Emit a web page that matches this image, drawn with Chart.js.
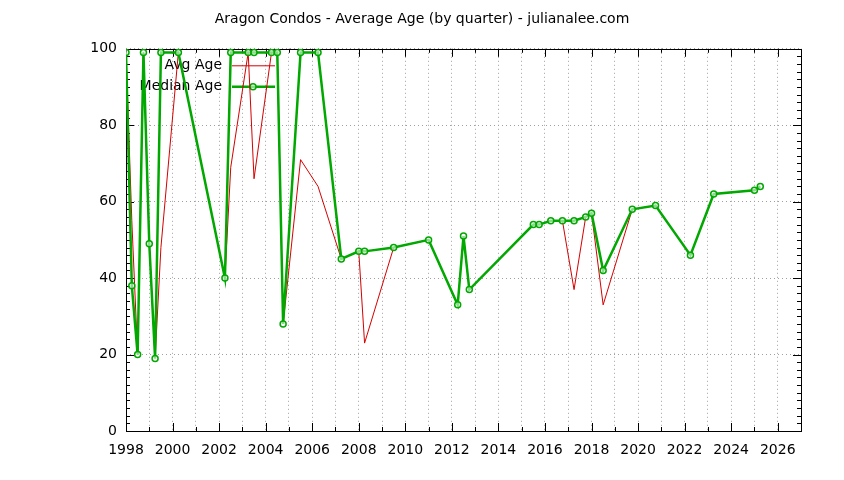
<!DOCTYPE html>
<html>
<head>
<meta charset="utf-8">
<script src="https://cdn.jsdelivr.net/npm/chart.js@4/dist/chart.umd.min.js"></script>
<style>
  html, body { margin: 0; padding: 0; background: #fff; }
  #wrap { width: 844px; height: 480px; }
</style>
</head>
<body>
<div id="wrap"><canvas id="age-chart" width="844" height="480"></canvas></div>
<script>
// quarter start as decimal year
const quarters = [
  1998.0, 1998.25, 1998.5, 1998.75, 1999.0, 1999.25, 1999.5, 2000.25,
  2002.25, 2002.5, 2003.25, 2003.5, 2004.25, 2004.5, 2004.75, 2005.5,
  2006.25, 2007.25, 2008.0, 2008.25, 2009.5, 2011.0, 2012.25, 2012.5,
  2012.75, 2015.5, 2015.75, 2016.25, 2016.75, 2017.25, 2017.75, 2018.0,
  2018.5, 2019.75, 2020.75, 2022.25, 2023.25, 2025.0, 2025.25
];
const avgAge = [
  99, 55, 20, 99, 49, 19, 48, 99,
  40, 69, 99, 66, 99, 99, 28, 71,
  64, 45, 47, 23, 48, 50, 33, 51,
  37, 54, 54, 55, 55, 37, 56, 57,
  33, 58, 59, 46, 62, 63, 64
];
const medianAge = [
  99, 38, 20, 99, 49, 19, 99, 99,
  40, 99, 99, 99, 99, 99, 28, 99,
  99, 45, 47, 47, 48, 50, 33, 51,
  37, 54, 54, 55, 55, 55, 56, 57,
  42, 58, 59, 46, 62, 63, 64
];
const xRange = [1998, 2027];
const yRange = [0, 100];

const RED = '#d40000';
const GREEN = '#00a800';

Chart.defaults.font.family = 'DejaVu Sans';
Chart.defaults.font.size = 14;
Chart.defaults.color = '#000';

// gnuplot style frame, inward ticks and key
const gnuFrame = {
  id: 'gnuFrame',
  beforeDatasetsDraw(chart) {
    const { ctx, chartArea: a, scales: { x, y } } = chart;
    ctx.save();
    ctx.strokeStyle = '#000';
    ctx.lineWidth = 1;
    ctx.beginPath();
    for (let yr = xRange[0] + 1; yr < xRange[1]; yr++) {
      const px = Math.round(x.getPixelForValue(yr)) + 0.5;
      const len = yr % 2 === 0 ? 8 : 4;
      ctx.moveTo(px, a.bottom); ctx.lineTo(px, a.bottom - len);
      ctx.moveTo(px, a.top); ctx.lineTo(px, a.top + len);
    }
    for (let v = yRange[0] + 2; v < yRange[1]; v += 2) {
      const py = Math.round(y.getPixelForValue(v)) + 0.5;
      const len = v % 20 === 0 ? 8 : 4;
      ctx.moveTo(a.left, py); ctx.lineTo(a.left + len, py);
      ctx.moveTo(a.right, py); ctx.lineTo(a.right - len, py);
    }
    ctx.stroke();
    ctx.strokeRect(Math.round(a.left) + 0.5, Math.round(a.top) + 0.5,
      Math.round(a.right - a.left), Math.round(a.bottom - a.top));

    // key
    ctx.font = '14px "DejaVu Sans"';
    ctx.textAlign = 'right';
    ctx.textBaseline = 'middle';
    ctx.fillStyle = '#000';
    const rows = [{ ds: chart.data.datasets[1], dy: 17 }, { ds: chart.data.datasets[0], dy: 38 }];
    rows.forEach(r => {
      const yy = a.top + r.dy;
      ctx.fillText(r.ds.label, a.left + 96, yy);
      ctx.strokeStyle = r.ds.borderColor;
      ctx.lineWidth = r.ds.borderWidth;
      ctx.beginPath();
      ctx.moveTo(a.left + 106, yy); ctx.lineTo(a.left + 149, yy);
      ctx.stroke();
      if (r.ds.pointRadius > 0) {
        ctx.lineWidth = r.ds.pointBorderWidth;
        ctx.fillStyle = r.ds.pointBackgroundColor;
        ctx.beginPath();
        ctx.arc(a.left + 127, yy, r.ds.pointRadius, 0, Math.PI * 2);
        ctx.fill(); ctx.stroke();
        ctx.fillStyle = '#000';
      }
    });
    ctx.restore();
  }
};

const ctx = document.getElementById('age-chart').getContext('2d');
new Chart(ctx, {
  type: 'line',
  data: {
    datasets: [
      {
        label: 'Median Age',
        data: quarters.map((q, i) => ({ x: q, y: medianAge[i] })),
        borderColor: GREEN,
        borderWidth: 2.5,
        pointRadius: 3,
        pointBorderWidth: 1.5,
        pointBorderColor: GREEN,
        pointBackgroundColor: 'rgba(255,255,255,0.55)',
        tension: 0,
        order: 1,
      },
      {
        label: 'Avg Age',
        data: quarters.map((q, i) => ({ x: q, y: avgAge[i] })),
        borderColor: RED,
        borderWidth: 1,
        pointRadius: 0,
        tension: 0,
        order: 2,
      },
    ],
  },
  options: {
    responsive: false,
    animation: false,
    events: [],
    layout: { padding: 0 },
    plugins: {
      legend: { display: false },
      tooltip: { enabled: false },
      title: {
        display: true,
        text: 'Aragon Condos - Average Age (by quarter) - julianalee.com',
        font: { size: 14, weight: 'normal' },
        color: '#000',
        padding: { top: 11, bottom: 21 },
      },
    },
    scales: {
      x: {
        type: 'linear',
        min: xRange[0],
        max: xRange[1],
        afterFit: s => { s.height = 49; },
        ticks: {
          stepSize: 1,
          autoSkip: false,
          maxRotation: 0,
          padding: 11,
          callback: v => (v % 2 === 0 ? String(v) : ''),
        },
        grid: { color: '#a0a0a0', lineWidth: 1, drawTicks: false },
        border: { display: false, dash: [1, 3] },
      },
      y: {
        min: yRange[0],
        max: yRange[1],
        afterFit: s => { s.width = 126; },
        ticks: { stepSize: 20, padding: 9 },
        grid: { color: '#a0a0a0', lineWidth: 1, drawTicks: false },
        border: { display: false, dash: [1, 3] },
      },
      // empty right margin so the title centres on the whole canvas
      yPad: {
        position: 'right',
        min: yRange[0],
        max: yRange[1],
        afterFit: s => { s.width = 43; },
        ticks: { display: false },
        grid: { display: false, drawTicks: false },
        border: { display: false },
      },
    },
  },
  plugins: [gnuFrame],
});
</script>
</body>
</html>
